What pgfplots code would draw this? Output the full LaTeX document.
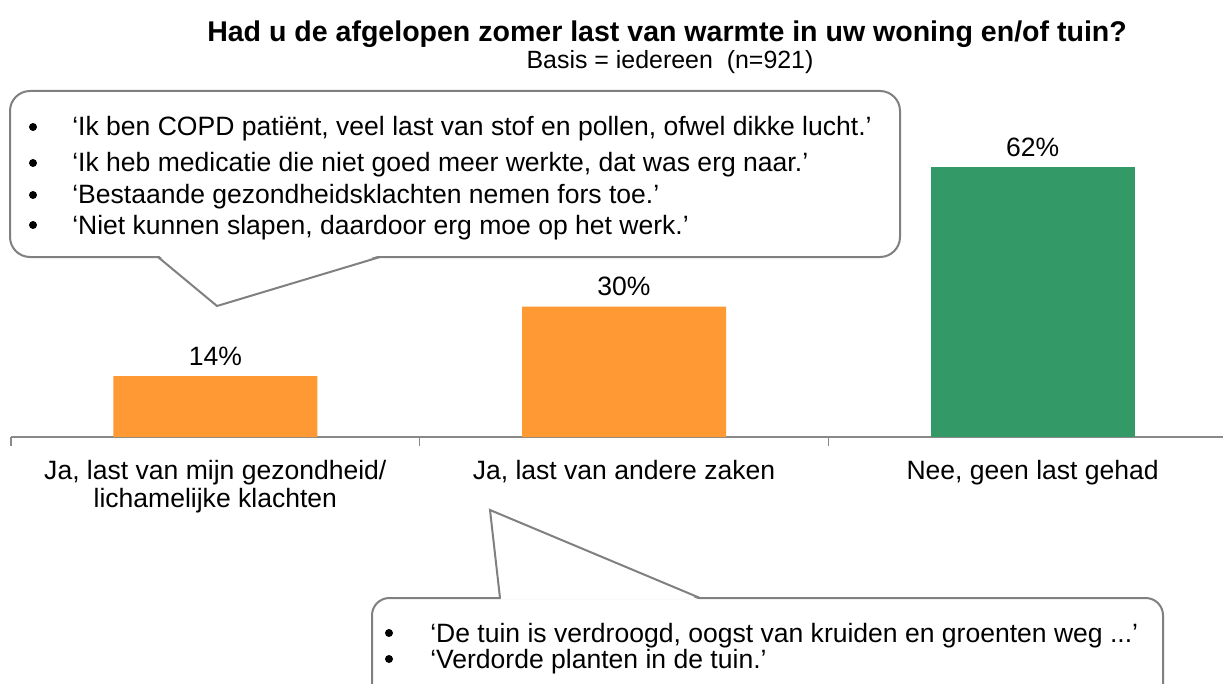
\documentclass[border=0pt]{standalone}
\usepackage{pgfplots}
\pgfplotsset{compat=1.18}
\usepackage{fontspec}
\setmainfont{Liberation Sans}
\definecolor{barorange}{HTML}{FF9933}
\definecolor{bargreen}{HTML}{339966}
\definecolor{boxgray}{HTML}{808080}
\definecolor{axisgray}{HTML}{898989}
\newcommand{\bodyfont}{\fontsize{19.9pt}{21pt}\selectfont}
\begin{document}
\begin{tikzpicture}
\useasboundingbox (0,0) rectangle (917.25pt,-513pt);
\begin{axis}[
  at={(8.25pt,-327.75pt)}, anchor=south west,
  scale only axis, width=919.5pt, height=326.25pt,
  xmin=-0.5, xmax=2.5, ymin=0, ymax=100,
  ybar, bar width=153pt, bar shift=0pt,
  axis y line=none,
  axis x line*=bottom,
  x axis line style={-, draw=axisgray, line width=1.3pt},
  xtick={-0.5,0.5,1.5,2.5},
  x tick label as interval,
  xticklabels={{Ja, last van mijn gezondheid/\\lichamelijke klachten},{Ja, last van andere zaken},{Nee, geen last gehad}},
  tick align=outside,
  major tick length=6.75pt,
  xtick style={draw=axisgray, line width=1pt},
  xticklabel style={font=\bodyfont, align=center, anchor=north, yshift=-7pt},
  /pgf/number format/assume math mode=true,
  nodes near coords={\pgfmathprintnumber{\pgfplotspointmeta}\%},
  every node near coord/.append style={font=\bodyfont, anchor=center, yshift=15pt},
  clip=false,
]
\addplot[fill=barorange, draw=none] coordinates {(0,14) (1,30)};
\addplot[fill=bargreen, draw=none] coordinates {(2,62)};
\end{axis}
\begin{scope}[x=0.75pt, y=-0.75pt]
  % title
  \node[anchor=base, font=\fontsize{21.4pt}{24pt}\selectfont\bfseries, inner sep=0] at (667,42) {Had u de afgelopen zomer last van warmte in uw woning en/of tuin?};
  \node[anchor=base, font=\fontsize{18.7pt}{22pt}\selectfont, inner sep=0] at (670,69) {Basis = iedereen \ (n=921)};
  % callout 1
  \draw[boxgray, line width=1.5pt, fill=white, rounded corners=15pt] (10,91) rectangle (900,257);
  \fill[white] (159,255.5) -- (217,304) -- (379,255.5) -- cycle;
  \draw[boxgray, line width=1.5pt, line join=miter] (158,257) -- (217,306) -- (380,257);
  \foreach \yy/\tt in {136/{‘Ik ben COPD patiënt, veel last van stof en pollen, ofwel dikke lucht.’},
                       172/{‘Ik heb medicatie die niet goed meer werkte, dat was erg naar.’},
                       204/{‘Bestaande gezondheidsklachten nemen fors toe.’},
                       234/{‘Niet kunnen slapen, daardoor erg moe op het werk.’}} {
    \fill (33,\yy-9) circle (3pt);
    \node[anchor=base west, inner sep=0, font=\bodyfont] at (72,\yy) {\tt};
  }
  % callout 2
  \draw[boxgray, line width=1.5pt, fill=white, rounded corners=13pt] (372,598) rectangle (1163,740);
  \fill[white] (501,599.5) -- (490,512) -- (699,599.5) -- cycle;
  \draw[boxgray, line width=1.5pt, line join=miter] (500,598) -- (490,510) -- (700,598);
  \foreach \yy/\tt in {642/{‘De tuin is verdroogd, oogst van kruiden en groenten weg ...’},
                       668/{‘Verdorde planten in de tuin.’}} {
    \fill (389,\yy-9) circle (3pt);
    \node[anchor=base west, inner sep=0, font=\bodyfont] at (430,\yy) {\tt};
  }
\end{scope}
\end{tikzpicture}
\end{document}
